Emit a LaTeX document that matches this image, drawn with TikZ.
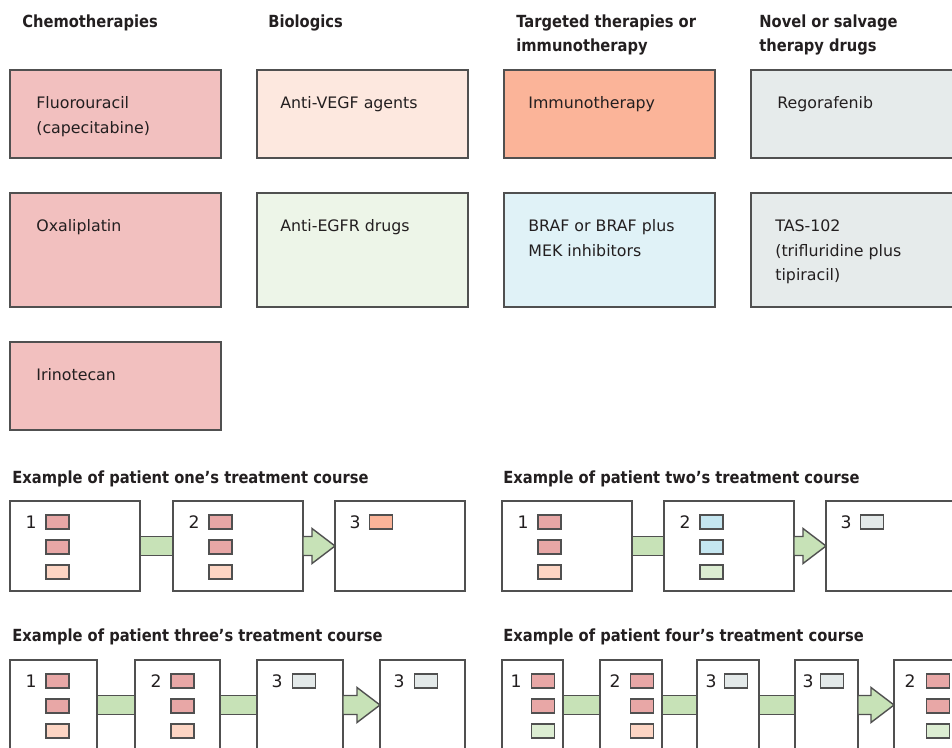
\documentclass[tikz,border=0pt]{standalone}
\usepackage{fontspec}
\setmainfont{DejaVu Sans}
\newfontfamily\headfont{DejaVu Sans}[FakeStretch=0.88]
\usetikzlibrary{calc}
\definecolor{ink}{HTML}{231F20}
\definecolor{edge}{HTML}{505050}
\definecolor{chemo}{HTML}{F2C0BF}
\definecolor{chemodose}{HTML}{E8A7A6}
\definecolor{vegf}{HTML}{FDE8DF}
\definecolor{vegfdose}{HTML}{FDD5C4}
\definecolor{immuno}{HTML}{FBB499}
\definecolor{egfr}{HTML}{EDF5E8}
\definecolor{egfrdose}{HTML}{DCEDD2}
\definecolor{braf}{HTML}{E0F2F7}
\definecolor{brafdose}{HTML}{C5E6F0}
\definecolor{salvage}{HTML}{E6EBEB}
\definecolor{salvagedose}{HTML}{E3E9E9}
\definecolor{linkgreen}{HTML}{C7E2B7}
% one stage of a treatment course: name, corner, width, number, x of number, x of doses, dose colours
\newcommand{\stagebox}[7]{%
  \node[stage, minimum width=#3] (#1) at (#2) {};
  \node[num] (#1n) at ($(#1.north west)+(#5,21)$) {#4};
  \foreach \c [count=\i] in {#7}
    \node[dose, fill=\c] (#1d\i) at ($(#1.north west)+(#6,25*\i-4)$) {};
}
\newcommand{\linkbar}[2]{\draw[link] ($(#1.east)+(0,-9.5)$) rectangle ($(#2.west)+(0,9.5)$);}
\newcommand{\linkarrow}[2]{\draw[link] ($(#1.east)+(0,-9.5)$) -- ($(#2.west)+(-23,-9.5)$)
  -- ($(#2.west)+(-23,-17.5)$) -- (#2.west) -- ($(#2.west)+(-23,17.5)$)
  -- ($(#2.west)+(-23,9.5)$) -- ($(#1.east)+(0,9.5)$) -- cycle;}
\begin{document}
\begin{tikzpicture}[x=0.02cm,y=-0.02cm,
  every node/.style={text=ink},
  title/.style={anchor=north west,inner sep=0pt,align=left,font=\headfont\bfseries\fontsize{9.5}{14.2}\selectfont},
  txt/.style={anchor=north west,inner sep=0pt,align=left,font=\fontsize{9}{14.2}\selectfont},
  drug/.style={draw=edge,line width=.8pt,anchor=north west,outer sep=0pt,inner sep=0pt,minimum width=4.22cm},
  stage/.style={draw=edge,fill=white,line width=.8pt,anchor=north west,outer sep=0pt,inner sep=0pt,minimum height=1.8cm},
  dose/.style={draw=edge,line width=.7pt,minimum width=.46cm,minimum height=.28cm,inner sep=0pt,outer sep=0pt},
  num/.style={inner sep=0pt,font=\fontsize{9.8}{11}\selectfont},
  link/.style={draw=edge,fill=linkgreen,line width=.8pt}]
\useasboundingbox (0,0) rectangle (952,747);
% drug classes
\node[title] (chemoh) at (22,14) {Chemotherapies};
\node[title] (bioh) at (268,14) {Biologics};
\node[title] (targh) at (516,14) {Targeted therapies or\\immunotherapy};
\node[title] (novelh) at (759,14) {Novel or salvage\\therapy drugs};
\node[drug,fill=chemo,minimum height=1.76cm] (fluoro) at (10,70) {};
\node[drug,fill=chemo,minimum height=2.28cm] (oxali) at (10,193) {};
\node[drug,fill=chemo,minimum height=1.76cm] (irino) at (10,342) {};
\node[drug,fill=vegf,minimum height=1.76cm] (vegf) at (257,70) {};
\node[drug,fill=egfr,minimum height=2.28cm] (egfr) at (257,193) {};
\node[drug,fill=immuno,minimum height=1.76cm] (immuno) at (504,70) {};
\node[drug,fill=braf,minimum height=2.28cm] (braf) at (504,193) {};
\node[drug,fill=salvage,minimum height=1.76cm] (rego) at (751,70) {};
\node[drug,fill=salvage,minimum height=2.28cm] (tas) at (751,193) {};
\node[txt] (fluorot) at ($(fluoro.north west)+(26,26)$) {Fluorouracil\\(capecitabine)};
\node[txt] (oxalit) at ($(oxali.north west)+(26,26)$) {Oxaliplatin};
\node[txt] (irinot) at ($(irino.north west)+(26,26)$) {Irinotecan};
\node[txt] (vegft) at ($(vegf.north west)+(23,26)$) {Anti-VEGF agents};
\node[txt] (egfrt) at ($(egfr.north west)+(23,26)$) {Anti-EGFR drugs};
\node[txt] (immunot) at ($(immuno.north west)+(24,26)$) {Immunotherapy};
\node[txt] (braft) at ($(braf.north west)+(24,26)$) {BRAF or BRAF plus\\MEK inhibitors};
\node[txt] (regot) at ($(rego.north west)+(26,26)$) {Regorafenib};
\node[txt] (tast) at ($(tas.north west)+(24,26)$) {TAS-102\\(trifluridine plus\\tipiracil)};
% patient courses
\node[title] (p1h) at (12,470) {Example of patient one’s treatment course};
\node[title] (p2h) at (503,470) {Example of patient two’s treatment course};
\node[title] (p3h) at (12,628) {Example of patient three’s treatment course};
\node[title] (p4h) at (503,628) {Example of patient four’s treatment course};
\stagebox{p1s1}{10,501}{2.6cm}{1}{21}{47.5}{chemodose,chemodose,vegfdose}
\stagebox{p1s2}{173,501}{2.6cm}{2}{21}{47.5}{chemodose,chemodose,vegfdose}
\stagebox{p1s3}{335,501}{2.6cm}{3}{20}{46}{immuno}
\linkbar{p1s1}{p1s2}
\linkarrow{p1s2}{p1s3}
\stagebox{p2s1}{502,501}{2.6cm}{1}{21}{47.5}{chemodose,chemodose,vegfdose}
\stagebox{p2s2}{664,501}{2.6cm}{2}{21}{47.5}{brafdose,brafdose,egfrdose}
\stagebox{p2s3}{826,501}{2.6cm}{3}{20}{46}{salvagedose}
\linkbar{p2s1}{p2s2}
\linkarrow{p2s2}{p2s3}
\stagebox{p3s1}{10,660}{1.74cm}{1}{21}{47.5}{chemodose,chemodose,vegfdose}
\stagebox{p3s2}{135,660}{1.7cm}{2}{21}{47.5}{chemodose,chemodose,vegfdose}
\stagebox{p3s3}{257,660}{1.72cm}{3}{20}{47}{salvagedose}
\stagebox{p3s4}{380,660}{1.7cm}{3}{19}{46}{salvagedose}
\linkbar{p3s1}{p3s2}
\linkbar{p3s2}{p3s3}
\linkarrow{p3s3}{p3s4}
\stagebox{p4s1}{502,660}{1.22cm}{1}{14}{41}{chemodose,chemodose,egfrdose}
\stagebox{p4s2}{600,660}{1.24cm}{2}{15}{42}{chemodose,chemodose,vegfdose}
\stagebox{p4s3}{697,660}{1.24cm}{3}{14}{39}{salvagedose}
\stagebox{p4s4}{795,660}{1.26cm}{3}{13}{37}{salvagedose}
\stagebox{p4s5}{894,660}{1.26cm}{2}{16}{44}{chemodose,chemodose,egfrdose}
\linkbar{p4s1}{p4s2}
\linkbar{p4s2}{p4s3}
\linkbar{p4s3}{p4s4}
\linkarrow{p4s4}{p4s5}
\end{tikzpicture}
\end{document}
